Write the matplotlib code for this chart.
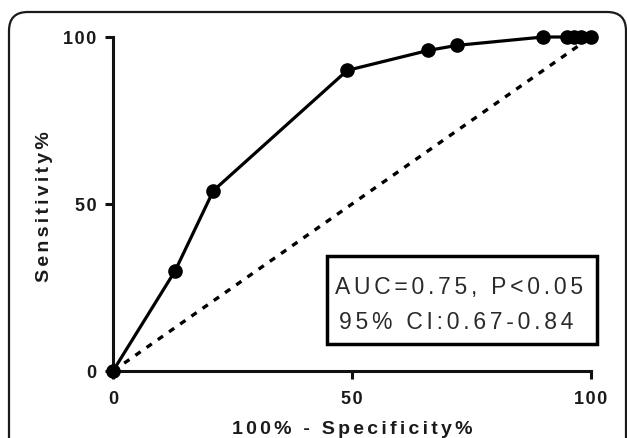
import numpy as np
import matplotlib
matplotlib.use("Agg")
import matplotlib.pyplot as plt
from matplotlib.patches import Rectangle, FancyBboxPatch

plt.rcParams['font.family'] = ['Liberation Sans', 'DejaVu Sans']

# ROC curve points (100% - specificity, sensitivity)
fpr = [0, 13, 21, 49, 66, 72, 90, 95, 96.5, 98, 100]
tpr = [0, 30, 54, 90, 96, 97.5, 100, 100, 100, 100, 100]
ref_line = [0, 100]
ticks = [0, 50, 100]
stat_lines = ["AUC=0.75, P<0.05", "95% CI:0.67-0.84"]
xlabel = "100% - Specificity%"
ylabel = "Sensitivity%"

HS = "\u200a"  # hair space for the wide letter spacing


def spaced(s, n=1):
    return (HS * n).join(s)


fig = plt.figure(figsize=(6.27, 4.39), dpi=100)
W, H = 627, 439

# rounded outer frame (bottom runs off the image)
frame = FancyBboxPatch(
    (9 / W, -0.2), (626 - 9) / W, (439 - 13) / H + 0.2,
    boxstyle="round,pad=0,rounding_size=0.03",
    transform=fig.transFigure, fill=False, ec='#1a1a1a', lw=1.6,
    mutation_aspect=W / H,
)
fig.patches.append(frame)

ax = fig.add_axes([113 / W, 1 - 372 / H, (591 - 113) / W, (372 - 38) / H])
ax.set_xlim(0, 100)
ax.set_ylim(0, 100)

ax.plot(ref_line, ref_line, color='black', lw=2.4, linestyle=(0, (1.9, 2.2)),
        dash_capstyle='butt', clip_on=False)
ax.plot(fpr, tpr, color='black', lw=2.3, marker='o', ms=9.5, mfc='black',
        mec='black', clip_on=False, zorder=5)

for s in ['top', 'right']:
    ax.spines[s].set_visible(False)
for s in ['left', 'bottom']:
    ax.spines[s].set_linewidth(2.2)
    ax.spines[s].set_color('#111111')

ax.set_xticks(ticks)
ax.set_yticks(ticks)
ax.set_xticklabels([spaced(str(t)) for t in ticks], fontsize=13, fontweight='bold')
ax.set_yticklabels([spaced(str(t)) for t in ticks], fontsize=13, fontweight='bold')
ax.tick_params(axis='both', direction='out', length=6, width=2.2, color='#111111',
               labelcolor='#1a1a1a')
ax.tick_params(axis='x', pad=8)
ax.tick_params(axis='y', pad=6)

fig.text(352 / W, 1 - 430 / H, spaced(xlabel, 2), ha='center', va='center',
         fontsize=14, fontweight='bold', color='#1a1a1a')
fig.text(45 / W, 1 - 207 / H, spaced(ylabel, 2), ha='center', va='center',
         rotation=90, fontsize=14, fontweight='bold', color='#1a1a1a')

# statistics box
ax.add_patch(Rectangle((44.8, 8.1), 101.3 - 44.8, 34.4 - 8.1, fill=False,
                       ec='black', lw=2.5, clip_on=False, zorder=4))
ax.text(72.5, 25.4, spaced(stat_lines[0], 2), ha='center', va='center',
        fontsize=16.5, color='#2a2a2a')
ax.text(71.8, 14.7, spaced(stat_lines[1], 2), ha='center', va='center',
        fontsize=16.5, color='#2a2a2a')

fig.savefig('out.png', dpi=100)
